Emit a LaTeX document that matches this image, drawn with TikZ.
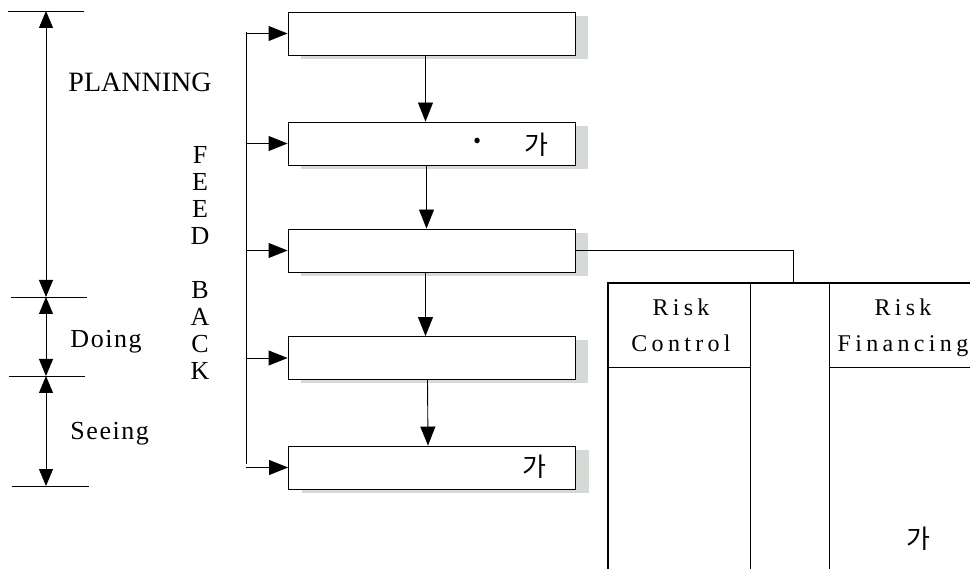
\documentclass[tikz,border=0pt]{standalone}
\usepackage{fontspec}
\setmainfont{Liberation Serif}
\newfontfamily\krfont{Noto Sans CJK KR}
\newfontfamily\spaced[LetterSpace=18]{Liberation Serif}
\newfontfamily\lightspaced[LetterSpace=6]{Liberation Serif}
\usetikzlibrary{arrows.meta,shadows}
\definecolor{shadowgray}{RGB}{214,218,214}
\tikzset{
  stepbox/.style={draw, fill=white, minimum width=287pt, minimum height=43pt,
    inner sep=0pt, drop shadow={shadow xshift=13pt, shadow yshift=-4pt,
    fill=shadowgray, opacity=1}},
  tip/.style={-{Triangle[length=19pt,width=15pt]}},
  dimarrow/.style={{Triangle[length=17pt,width=14pt]}-{Triangle[length=17pt,width=14pt]}},
  label/.style={font=\fontsize{26}{27}\selectfont, inner sep=0pt},
  kr/.style={font=\krfont\fontsize{26}{26}\selectfont, inner sep=0pt}
}
\begin{document}
\begin{tikzpicture}[x=1pt, y=-1pt, line width=0.9pt]
  \useasboundingbox (0,0) rectangle (970,569);
  % phases on the left
  \coordinate (t0) at (46,11);
  \coordinate (t1) at (46,297);
  \coordinate (t2) at (46,376);
  \coordinate (t3) at (46,486);
  \draw (8,11) -- (84,11);
  \draw (11,297) -- (87,297);
  \draw (9,376) -- (85,376);
  \draw (12,486) -- (89,486);
  \draw[dimarrow] (t0) -- (t1);
  \draw[dimarrow] (t1) -- (t2);
  \draw[dimarrow] (t2) -- (t3);
  \node[label, font=\fontsize{28}{30}\selectfont, anchor=base west] (plan) at (68,92) {PLANNING};
  \node[label, font=\lightspaced\fontsize{26}{27}\selectfont, anchor=base west] (doing) at (70,348) {Doing};
  \node[label, font=\lightspaced\fontsize{26}{27}\selectfont, anchor=base west] (seeing) at (70,439) {Seeing};
  \node[label, align=center, anchor=north] (fb) at (200,146)
    {F\\E\\E\\D\\[27pt]B\\A\\C\\K};
  % process boxes
  \node[stepbox] (s1) at (431.5,33.5) {};
  \node[stepbox] (s2) at (431.5,143.5) {};
  \node[stepbox] (s3) at (431.5,250.5) {};
  \node[stepbox] (s4) at (431.5,358) {};
  \node[stepbox] (s5) at (432,467.5) {};
  \node[kr, font=\krfont\fontsize{40}{40}\selectfont] (d2) at (478,147) {·};
  \node[kr] (k2) at (536,145) {가};
  \node[kr] (k5) at (534,467) {가};
  \draw[tip] ([xshift=-6pt]s1.south) -- ([xshift=-6pt]s2.north);
  \draw[tip] ([xshift=-5pt]s2.south) -- ([xshift=-5pt]s3.north);
  \draw[tip] ([xshift=-6pt]s3.south) -- ([xshift=-6pt]s4.north);
  \draw[tip] ([xshift=-4pt]s4.south) -- ([xshift=-4pt]s5.north);
  % feedback line
  \coordinate (fbtop) at (246,32);
  \coordinate (fbbot) at (246,464);
  \draw (fbtop) -- (fbbot);
  \foreach \i in {1,...,5}
    \draw[tip] (fbtop |- s\i.west) -- (s\i.west);
  % table
  \coordinate (tabtop) at (793,283);
  \draw (s3.east) -| (tabtop);
  \draw[line width=1.8pt] (608,569) -- (608,283) -- (975,283);
  \draw (750,283) -- (750,569);
  \draw (829,283) -- (829,569);
  \draw (608,367) -- (750,367);
  \draw (829,367) -- (975,367);
  \node[font=\spaced\fontsize{24}{36}\selectfont, align=center, inner sep=0pt, anchor=north] (rc) at (681,298)
    {Risk\\Control};
  \node[font=\spaced\fontsize{24}{36}\selectfont, align=center, inner sep=0pt, anchor=north] (rf) at (903,298)
    {Risk\\Financing};
  \node[kr] (k6) at (918,539) {가};
\end{tikzpicture}
\end{document}
